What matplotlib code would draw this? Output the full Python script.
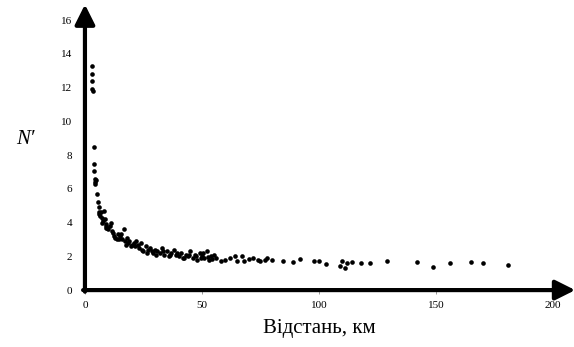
import matplotlib
matplotlib.use('Agg')
import matplotlib.pyplot as plt

# distance, km  /  N'
dist = [3.0, 3.1, 3.0, 3.2, 3.3, 4.0, 3.8, 3.9, 4.2, 4.5, 4.3, 4.8, 5.0, 5.5, 6.2,
        5.8, 6.5, 7.0, 7.5, 8.0, 8.5, 7.2, 9.0, 9.5, 10.0, 8.8, 11.0, 10.5, 12.0, 12.5,
        13.0, 14.0, 14.5, 15.0, 16.0, 16.5, 17.0, 18.0, 18.5, 19.0, 20.0, 21.0, 21.5, 22.0,
        23.0, 24.0, 25.0, 26.0, 27.0, 28.0, 29.0, 30.0, 31.0, 32.0, 33.0, 34.0, 35.0, 36.0,
        37.0, 38.0, 39.0, 40.0, 41.0, 42.0, 43.0, 44.0, 45.0, 46.0, 47.0, 48.0, 49.0, 50.0,
        51.0, 52.0, 53.0, 54.0, 55.0, 56.0, 6.0, 7.8, 9.2, 11.5, 13.5, 15.5, 17.5, 19.5,
        22.5, 24.5, 26.5, 28.5, 30.5, 33.5, 36.5, 39.5, 42.5, 44.5, 47.5, 49.5, 50.5, 52.5,
        54.5, 58.0, 60.0, 62.0, 64.0, 65.0, 67.0, 68.0, 70.0, 72.0, 74.0, 75.0, 77.0, 78.0,
        80.0, 84.7, 89.0, 92.0, 98.0, 100.0, 103.0, 109.0, 110.0, 111.0, 112.0, 114.0, 118.0,
        122.0, 129.0, 142.0, 149.0, 156.0, 165.0, 170.0, 181.0]
nprime = [13.3, 12.8, 12.4, 11.9, 11.8, 8.5, 7.45, 7.05, 6.6, 6.4, 6.3, 6.5, 5.7, 5.2, 4.9,
          4.5, 4.4, 4.6, 4.3, 4.7, 4.2, 4.0, 3.9, 3.7, 3.6, 3.7, 4.0, 3.8, 3.4, 3.2,
          3.1, 3.3, 3.0, 3.2, 3.0, 3.6, 2.9, 3.1, 2.8, 2.9, 2.7, 2.8, 2.6, 2.9,
          2.5, 2.8, 2.3, 2.6, 2.4, 2.5, 2.2, 2.4, 2.3, 2.2, 2.5, 2.1, 2.3, 2.0,
          2.2, 2.4, 2.1, 2.0, 2.2, 1.9, 2.1, 2.0, 2.3, 1.9, 2.1, 1.8, 2.2, 2.0,
          1.9, 2.3, 1.8, 2.0, 2.1, 1.9, 4.6, 4.1, 3.8, 3.5, 3.0, 3.3, 2.7, 2.6,
          2.7, 2.4, 2.2, 2.3, 2.1, 2.3, 2.1, 2.2, 1.9, 2.1, 2.0, 1.9, 2.2, 1.95,
          1.85, 1.75, 1.8, 1.9, 2.0, 1.75, 2.0, 1.7, 1.85, 1.9, 1.8, 1.75, 1.8, 1.9,
          1.8, 1.72, 1.68, 1.83, 1.72, 1.72, 1.54, 1.4, 1.75, 1.3, 1.6, 1.66, 1.6,
          1.6, 1.7, 1.66, 1.38, 1.62, 1.66, 1.58, 1.48]

xticks = [0, 50, 100, 150, 200]
yticks = [0, 2, 4, 6, 8, 10, 12, 14, 16]

plt.rcParams['font.family'] = ['Liberation Serif', 'DejaVu Serif']

fig = plt.figure(figsize=(5.74, 3.47), dpi=100)
ax = fig.add_axes([0.148, 0.164, 0.815, 0.778])

ax.scatter(dist, nprime, s=11, color='black', linewidths=0, zorder=3, clip_on=False)

ax.set_xlim(0, 200)
ax.set_ylim(0, 16)
ax.set_xticks(xticks)
ax.set_yticks(yticks)
for s in ax.spines.values():
    s.set_visible(False)
ax.tick_params(axis='x', length=3, width=0.6, color='#888888', pad=5, labelsize=8)
ax.tick_params(axis='y', length=0, pad=9, labelsize=8)

# thick axes with arrow heads
arrow = dict(arrowstyle='-|>,head_length=0.6,head_width=0.3', lw=3,
             mutation_scale=20, color='black', shrinkA=0, shrinkB=0)
ax.annotate('', xy=(1.048, 0), xytext=(-0.004, 0), xycoords='axes fraction',
            arrowprops=arrow, annotation_clip=False)
ax.annotate('', xy=(0, 1.058), xytext=(0, -0.006), xycoords='axes fraction',
            arrowprops=arrow, annotation_clip=False)

ax.set_xlabel('Відстань, км', fontsize=15, labelpad=6)
fig.text(25 / 574, 1 - 140 / 347, "N′", fontsize=15, style='italic',
         ha='center', va='center')

fig.savefig('out.png', dpi=100)
